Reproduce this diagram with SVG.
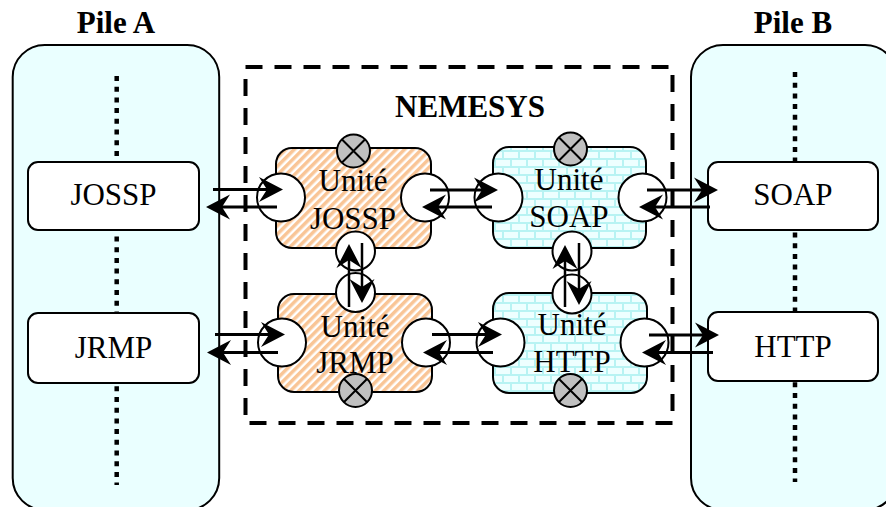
<svg xmlns="http://www.w3.org/2000/svg" width="886" height="507" viewBox="0 0 886 507">
<defs>
<style>
.pile{fill:#EAFFFF;stroke:#000;stroke-width:2}
.box{fill:#fff;stroke:#000;stroke-width:2}
.dots{fill:none;stroke:#000;stroke-width:4.5;stroke-dasharray:5 5.7}
.frame{fill:none;stroke:#000;stroke-width:4;stroke-dasharray:17 12}
.body{stroke:#000;stroke-width:2}
.port{fill:#fff;stroke:#000;stroke-width:2}
.x{fill:#C0C0C0;stroke:#000;stroke-width:2}
.t{font-family:"Liberation Serif","Times New Roman",serif;font-size:31px;text-anchor:middle;fill:#000}
.b{font-weight:bold}
.h{stroke:#000;stroke-width:3;fill:none}
.v{stroke:#000;stroke-width:2.5;fill:none}
</style>
<pattern id="hatch" width="6" height="6" patternUnits="userSpaceOnUse" patternTransform="rotate(45)">
<rect width="6" height="6" fill="#FFFFFF"/>
<rect width="3.5" height="6" fill="#F9C596"/>
</pattern>
<pattern id="brick" width="16" height="16" patternUnits="userSpaceOnUse">
<rect width="16" height="16" fill="#B8F3F3"/>
<rect x="0" y="0" width="14" height="6" fill="#EEFFFF"/>
<rect x="0" y="8" width="6" height="6" fill="#EEFFFF"/>
<rect x="8" y="8" width="8" height="6" fill="#EEFFFF"/>
</pattern>
<marker id="ah" markerUnits="userSpaceOnUse" markerWidth="26" markerHeight="26" refX="10" refY="13" orient="auto" viewBox="0 0 26 26" overflow="visible">
<path d="M0,0.5 L24,13 L0,25.5 L8,13 Z" fill="#000"/>
</marker>
</defs>

<g id="pileA">
<rect class="pile" x="12.7" y="45" width="206.5" height="465" rx="32"/>
<line class="dots" x1="116.7" y1="76" x2="116.7" y2="485"/>
<text class="t b" x="116" y="33">Pile A</text>
</g>
<g id="pileB">
<rect class="pile" x="691" y="45" width="206" height="465" rx="32"/>
<line class="dots" x1="795" y1="72" x2="795" y2="482"/>
<text class="t b" x="793" y="33">Pile B</text>
</g>
<g id="josspA">
<rect class="box" x="28" y="162" width="171" height="68" rx="10"/>
<text class="t" x="113.5" y="205">JOSSP</text>
</g>
<g id="jrmpA">
<rect class="box" x="28" y="313" width="171" height="70" rx="10"/>
<text class="t" x="113.5" y="358">JRMP</text>
</g>
<g id="soapB">
<rect class="box" x="708" y="162" width="170" height="68" rx="10"/>
<text class="t" x="793" y="205">SOAP</text>
</g>
<g id="httpB">
<rect class="box" x="708" y="312" width="170" height="69" rx="10"/>
<text class="t" x="793" y="357">HTTP</text>
</g>

<g id="nemesys">
<rect class="frame" x="245.5" y="67" width="427" height="356"/>
<text class="t b" x="470" y="117">NEMESYS</text>
</g>

<g id="uniteJOSSP">
<rect class="body" fill="url(#hatch)" x="276" y="148" width="155" height="100" rx="16"/>
<circle class="port" cx="281" cy="197.5" r="24"/>
<circle class="port" cx="425" cy="197.5" r="24"/>
<circle class="port" cx="355.5" cy="251" r="19.5"/>
<circle class="x" cx="353.5" cy="151" r="16.5"/>
<path d="M341.8,139.3 L365.2,162.7 M365.2,139.3 L341.8,162.7" stroke="#000" stroke-width="2"/>
<text class="t" x="353" y="191">Unité</text>
<text class="t" x="353" y="229">JOSSP</text>
</g>
<g id="uniteSOAP">
<rect class="body" fill="url(#brick)" x="493" y="147" width="153" height="101" rx="16"/>
<circle class="port" cx="498.5" cy="197.5" r="24"/>
<circle class="port" cx="642.5" cy="197.5" r="24"/>
<circle class="port" cx="572" cy="251" r="19.5"/>
<circle class="x" cx="570.5" cy="149" r="16.5"/>
<path d="M558.8,137.3 L582.2,160.7 M582.2,137.3 L558.8,160.7" stroke="#000" stroke-width="2"/>
<text class="t" x="569" y="190">Unité</text>
<text class="t" x="569" y="227">SOAP</text>
</g>
<g id="uniteJRMP">
<rect class="body" fill="url(#hatch)" x="278" y="294" width="154" height="98" rx="16"/>
<circle class="port" cx="282" cy="342.5" r="24"/>
<circle class="port" cx="426" cy="342.5" r="24"/>
<circle class="port" cx="355.5" cy="292.5" r="19.5"/>
<circle class="x" cx="355.5" cy="390.5" r="16.5"/>
<path d="M343.8,378.8 L367.2,402.2 M367.2,378.8 L343.8,402.2" stroke="#000" stroke-width="2"/>
<text class="t" x="355" y="337">Unité</text>
<text class="t" x="355" y="373">JRMP</text>
</g>
<g id="uniteHTTP">
<rect class="body" fill="url(#brick)" x="493" y="293" width="154" height="100" rx="16"/>
<circle class="port" cx="500.5" cy="342.5" r="24"/>
<circle class="port" cx="644.5" cy="342.5" r="24"/>
<circle class="port" cx="572" cy="294" r="19.5"/>
<circle class="x" cx="570.5" cy="390.5" r="16.5"/>
<path d="M558.8,378.8 L582.2,402.2 M582.2,378.8 L558.8,402.2" stroke="#000" stroke-width="2"/>
<text class="t" x="572" y="335">Unité</text>
<text class="t" x="572" y="372">HTTP</text>
</g>

<g id="connectors">
<line class="h" x1="213" y1="189.5" x2="269" y2="189.5" marker-end="url(#ah)"/>
<line class="h" x1="277" y1="207" x2="220" y2="207" marker-end="url(#ah)"/>
<line class="h" x1="430" y1="190" x2="484" y2="190" marker-end="url(#ah)"/>
<line class="h" x1="492" y1="207" x2="436" y2="207" marker-end="url(#ah)"/>
<line class="h" x1="647" y1="190" x2="704" y2="190" marker-end="url(#ah)"/>
<line class="h" x1="710" y1="207" x2="653" y2="207" marker-end="url(#ah)"/>
<line class="h" x1="215" y1="334.5" x2="271" y2="334.5" marker-end="url(#ah)"/>
<line class="h" x1="278" y1="352.5" x2="221" y2="352.5" marker-end="url(#ah)"/>
<line class="h" x1="432" y1="334.5" x2="488" y2="334.5" marker-end="url(#ah)"/>
<line class="h" x1="493" y1="352.5" x2="437" y2="352.5" marker-end="url(#ah)"/>
<line class="h" x1="649" y1="335" x2="705" y2="335" marker-end="url(#ah)"/>
<line class="h" x1="713" y1="352.5" x2="656" y2="352.5" marker-end="url(#ah)"/>
<line class="v" x1="349" y1="307" x2="349" y2="258" marker-end="url(#ah)"/>
<line class="v" x1="362" y1="243" x2="362" y2="289" marker-end="url(#ah)"/>
<line class="v" x1="565" y1="307" x2="565" y2="259" marker-end="url(#ah)"/>
<line class="v" x1="579" y1="243" x2="579" y2="291" marker-end="url(#ah)"/>
</g>
</svg>
